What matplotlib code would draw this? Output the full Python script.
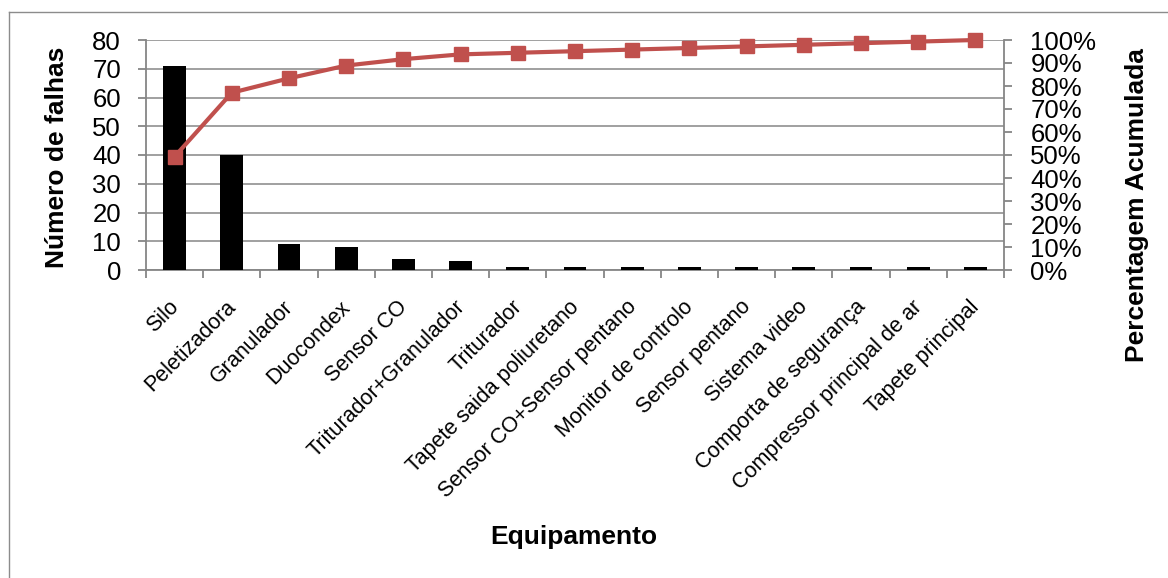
import matplotlib
matplotlib.use("Agg")
import matplotlib.pyplot as plt
import matplotlib.transforms as mtransforms
from matplotlib.lines import Line2D
import numpy as np

plt.rcParams['font.family'] = ['Liberation Sans', 'DejaVu Sans']

categories = ["Silo", "Peletizadora", "Granulador", "Duocondex", "Sensor CO",
              "Triturador+Granulador", "Triturador", "Tapete saida poliuretano",
              "Sensor CO+Sensor pentano", "Monitor de controlo", "Sensor pentano",
              "Sistema video", "Comporta de segurança",
              "Compressor principal de ar", "Tapete principal"]
falhas = [71, 40, 9, 8, 4, 3, 1, 1, 1, 1, 1, 1, 1, 1, 1]
left_ticks = [0, 10, 20, 30, 40, 50, 60, 70, 80]
right_ticks = [0.0, 0.1, 0.2, 0.3, 0.4, 0.5, 0.6, 0.7, 0.8, 0.9, 1.0]
right_labels = ["0%", "10%", "20%", "30%", "40%", "50%", "60%", "70%",
                "80%", "90%", "100%"]

acumulada = np.cumsum(falhas) / np.sum(falhas)

W, H = 1168, 578
fig = plt.figure(figsize=(W / 100, H / 100), dpi=100)

# outer chart frame
frame_color = "#8c8c8c"
fig.add_artist(Line2D([8.5 / W, 8.5 / W], [0, 1 - 11.5 / H], transform=fig.transFigure,
                      color=frame_color, lw=1.0))
fig.add_artist(Line2D([8.5 / W, 1], [1 - 11.5 / H, 1 - 11.5 / H], transform=fig.transFigure,
                      color=frame_color, lw=1.0))

x0, x1 = 146, 1004
y0, y1 = 40, 270
ax = fig.add_axes([x0 / W, 1 - y1 / H, (x1 - x0) / W, (y1 - y0) / H])

grey = "#868686"
x = np.arange(len(categories))
ax.bar(x, falhas, width=0.4, color="black", zorder=3)
ax.set_xlim(-0.5, len(categories) - 0.5)
ax.set_ylim(0, 80)
ax.set_yticks(left_ticks)
ax.yaxis.grid(True, color=grey, lw=1.1, zorder=0)
ax.set_axisbelow(True)
for s in ["top", "right"]:
    ax.spines[s].set_visible(False)
for s in ["left", "bottom"]:
    ax.spines[s].set_color(grey)
    ax.spines[s].set_linewidth(1.3)
ax.tick_params(axis="y", colors=grey, labelcolor="black", labelsize=18.5,
               length=6, width=1.3, pad=12)
ax.set_xticks(np.arange(len(categories) + 1) - 0.5)
ax.set_xticklabels([])
ax.tick_params(axis="x", colors=grey, length=6, width=1.3)

# rotated category labels
offset = mtransforms.ScaledTranslation(1 / 100, -34 / 100, fig.dpi_scale_trans)
trans = ax.get_xaxis_transform() + offset
for xi, name in zip(x, categories):
    ax.text(xi, 0, name, transform=trans, rotation=45, rotation_mode="anchor",
            ha="right", va="center", fontsize=15.5)

ax2 = ax.twinx()
ax2.plot(x, acumulada, color="#C0504D", lw=3.0, marker="s", markersize=10.5,
         markeredgecolor="#C0504D", zorder=4, clip_on=False)
ax2.set_ylim(0, 1)
ax2.set_yticks(right_ticks)
ax2.set_yticklabels(right_labels)
for s in ["top", "left", "bottom"]:
    ax2.spines[s].set_visible(False)
ax2.spines["right"].set_color(grey)
ax2.spines["right"].set_linewidth(1.3)
ax2.tick_params(axis="y", colors=grey, labelcolor="black", labelsize=18.5,
                length=6, width=1.3, pad=13)

fig.text(57 / W, 1 - 157 / H, "Número de falhas", rotation=90, ha="center", va="center",
         fontsize=19, fontweight="bold")
fig.text(1137 / W, 1 - 205 / H, "Percentagem Acumulada", rotation=90, ha="center",
         va="center", fontsize=19, fontweight="bold")
fig.text(574 / W, 1 - 537 / H, "Equipamento", ha="center", va="center",
         fontsize=19, fontweight="bold")

fig.savefig("out.png", dpi=100)
